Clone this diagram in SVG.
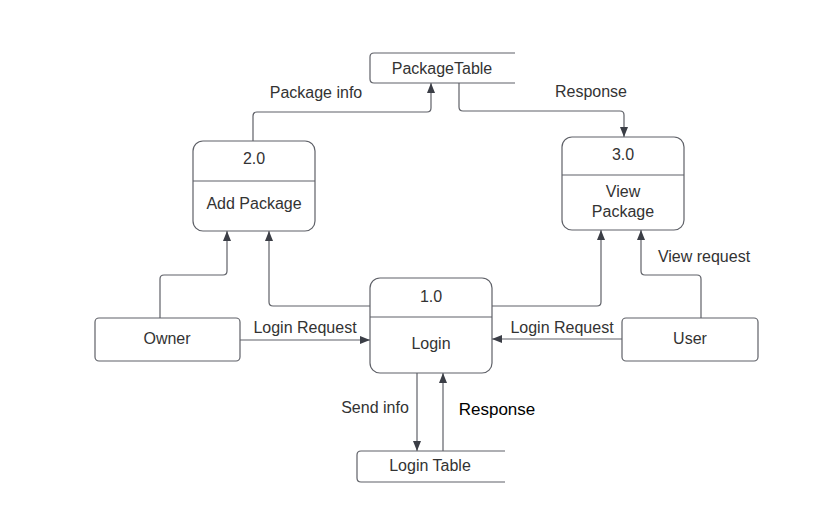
<svg xmlns="http://www.w3.org/2000/svg" width="836" height="521" viewBox="0 0 836 521">
<style>
.box{fill:#fff;stroke:#5f6168;stroke-width:1.2}
.ln{fill:none;stroke:#5f6168;stroke-width:1.2}
.t{font-family:"Liberation Sans",Arial,sans-serif;font-size:16px;fill:#333;text-anchor:middle;dominant-baseline:central}
.lb{font-family:"Liberation Sans",Arial,sans-serif;font-size:16px;fill:#333;text-anchor:middle;dominant-baseline:central}
</style>
<defs>
<marker id="ah" viewBox="0 0 10 10" refX="10" refY="5" markerWidth="10" markerHeight="10" markerUnits="userSpaceOnUse" orient="auto">
<path d="M0,1 L10,5 L0,9 Z" fill="#3b3e46"/>
</marker>
</defs>
<rect width="836" height="521" fill="#fff"/>
<g id="connectors">
<path class="ln" d="M253,141 V116 Q253,112 257,112 H427 Q431,112 431,108 V83" marker-end="url(#ah)"/>
<path class="ln" d="M459,83 V107 Q459,111 463,111 H620 Q624,111 624,115 V137" marker-end="url(#ah)"/>
<path class="ln" d="M160,318 V279 Q160,275 164,275 H223 Q227,275 227,271 V231" marker-end="url(#ah)"/>
<path class="ln" d="M370,306 H273 Q269,306 269,302 V231" marker-end="url(#ah)"/>
<path class="ln" d="M492,306 H597 Q601,306 601,302 V230" marker-end="url(#ah)"/>
<path class="ln" d="M701,318 V279 Q701,275 697,275 H645 Q641,275 641,271 V230" marker-end="url(#ah)"/>
<path class="ln" d="M240,340 H370" marker-end="url(#ah)"/>
<path class="ln" d="M622,339 H492" marker-end="url(#ah)"/>
<path class="ln" d="M417,373 V451" marker-end="url(#ah)"/>
<path class="ln" d="M443,451 V373" marker-end="url(#ah)"/>
<text class="lb" x="316" y="92">Package info</text>
<text class="lb" x="591" y="91">Response</text>
<text class="lb" x="704" y="256">View request</text>
<text class="lb" x="305" y="327">Login Request</text>
<text class="lb" x="562" y="327">Login Request</text>
<text class="lb" x="375" y="407">Send info</text>
<text x="497" y="409" style="font-family:'Liberation Sans',Arial,sans-serif;font-size:17px;fill:#000;text-anchor:middle;dominant-baseline:central">Response</text>
</g>
<g id="packagetable">
<path class="box" d="M515,53 H374 Q370,53 370,57 V79 Q370,83 374,83 H515"/>
<text class="t" x="442" y="68">PackageTable</text>
</g>
<g id="node-2">
<rect class="box" x="193" y="141" width="122" height="90" rx="10"/>
<line class="ln" x1="193" y1="181" x2="315" y2="181"/>
<text class="t" x="254" y="158">2.0</text>
<text class="t" x="254" y="203">Add Package</text>
</g>
<g id="node-3">
<rect class="box" x="562" y="137" width="122" height="93" rx="10"/>
<line class="ln" x1="562" y1="175" x2="684" y2="175"/>
<text class="t" x="623" y="154">3.0</text>
<text class="t" x="623" y="191">View</text>
<text class="t" x="623" y="211">Package</text>
</g>
<g id="node-1">
<rect class="box" x="370" y="278" width="122" height="95" rx="10"/>
<line class="ln" x1="370" y1="317" x2="492" y2="317"/>
<text class="t" x="431" y="296">1.0</text>
<text class="t" x="431" y="343">Login</text>
</g>
<g id="owner">
<rect class="box" x="95" y="318" width="145" height="43" rx="4"/>
<text class="t" x="167" y="338">Owner</text>
</g>
<g id="user">
<rect class="box" x="622" y="318" width="136" height="43" rx="4"/>
<text class="t" x="690" y="338">User</text>
</g>
<g id="logintable">
<path class="box" d="M505,451 H361 Q357,451 357,455 V478 Q357,482 361,482 H505"/>
<text class="t" x="430" y="465">Login Table</text>
</g>
</svg>
